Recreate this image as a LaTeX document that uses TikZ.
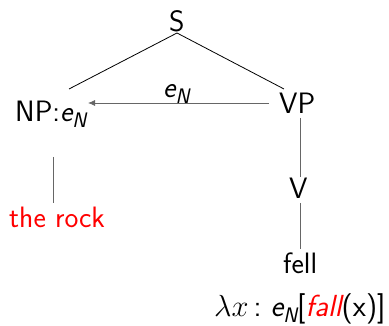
\RequirePackage{fix-cm}
\documentclass[tikz,border=0pt]{standalone}
\usetikzlibrary{arrows.meta}
\newcommand{\eNsub}{{\itshape e\raisebox{-0.18em}{\fontsize{21}{21}\selectfont N}}}
\begin{document}
\begin{tikzpicture}[x=1pt,y=1pt,
  lbl/.style={inner sep=0pt,anchor=base west,font=\fontsize{29.5}{34}\selectfont\sffamily},
  tree/.style={line width=0.8pt},
  gtree/.style={line width=0.8pt,draw=black!60},
  arr/.style={line width=0.8pt,draw=black!60,-{Latex[length=7pt,width=6pt]}}]
\useasboundingbox (0,0) rectangle (389,326);
\node[lbl] (S) at (169,294) {S};
\node[lbl] (NP) at (15,204) {NP:\eNsub};
\node[lbl] (VP) at (279,212) {VP};
\node[lbl] (eN) at (163,228) {\eNsub};
\node[lbl] (V) at (289,127) {V};
\node[lbl] (fell) at (283,52) {fell};
\node[lbl,text=red] (rock) at (9,98) {the rock};
\node[lbl,font=\fontsize{30.5}{34}\selectfont\sffamily] (sem) at (214,9) {$\lambda x$\hspace{5pt}:\hspace{9pt}\eNsub[{\color{red}\itshape fall}(x)]};
\coordinate (Sb) at (177,293);
\coordinate (NPt) at (69,237);
\coordinate (VPt) at (284,237);
\coordinate (NPb) at (53,169);
\coordinate (rockt) at (53,123);
\coordinate (VPb) at (300,208);
\coordinate (Vt) at (300,149);
\coordinate (Vb) at (300,123);
\coordinate (fellt) at (300,77);
\coordinate (arrS) at (269,223);
\coordinate (arrE) at (88,223);
\draw[tree] (Sb) -- (NPt);
\draw[tree] (Sb) -- (VPt);
\draw[gtree] (NPb) -- (rockt);
\draw[gtree] (VPb) -- (Vt);
\draw[gtree] (Vb) -- (fellt);
\draw[arr] (arrS) -- (arrE);
\end{tikzpicture}
\end{document}
